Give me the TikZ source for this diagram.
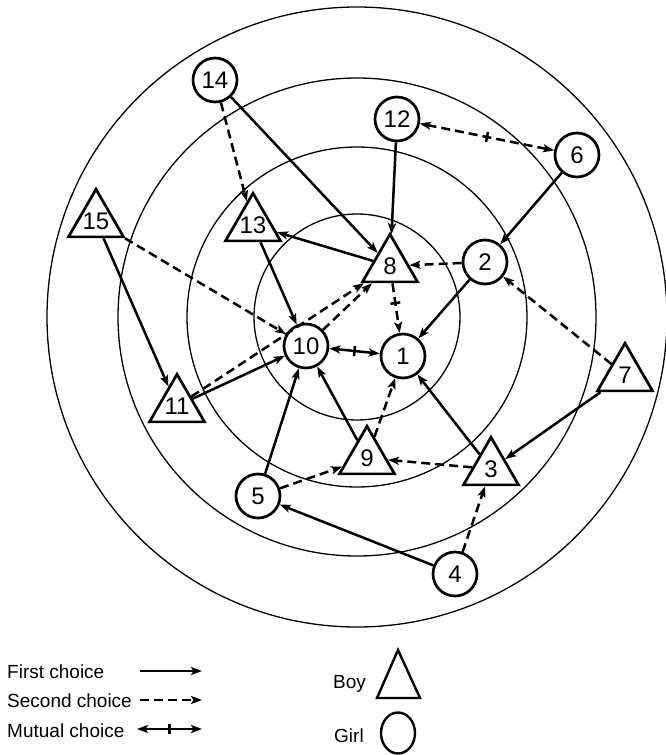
\documentclass[tikz,border=0pt]{standalone}
\usepackage{fontspec}
\setmainfont{Liberation Sans}
\usetikzlibrary{shapes.geometric,arrows.meta,decorations.markings}
\begin{document}
\begin{tikzpicture}[x=1pt,y=-1pt,
  ring/.style={line width=1.3pt},
  girl/.style={draw,circle,fill=white,minimum size=44pt,inner sep=0pt,line width=2.7pt,font=\fontsize{24}{24}\selectfont},
  boy/.style={draw,regular polygon,regular polygon sides=3,fill=white,minimum size=63.5pt,inner sep=0pt,line width=2.7pt},
  blab/.style={font=\fontsize{24}{24}\selectfont},
  tip/.style={arrows={-Stealth[length=11pt,width=8pt,inset=2.5pt]}},
  first/.style={line width=2.5pt,tip},
  second/.style={first,dash pattern=on 9pt off 5pt},
  midtick/.style={postaction={decorate,decoration={markings,mark=at position #1 with {\draw[solid,arrows=-,line width=2.5pt] (0pt,-5pt) -- (0pt,5pt);}}}},
  midtick/.default=0.5,
  mutual/.style={line width=2.5pt,arrows={Stealth[length=11pt,width=8pt,inset=2.5pt]-Stealth[length=11pt,width=8pt,inset=2.5pt]},midtick},
  mutualdash/.style={mutual,dash pattern=on 9pt off 5pt},
  legtext/.style={anchor=base west,inner sep=0pt,font=\fontsize{19}{19}\selectfont}
]
\useasboundingbox (0,0) rectangle (666,755);
% concentric rings
\coordinate (ctr) at (357,317);
\draw[ring] (ctr) circle[radius=103pt];
\draw[ring] (ctr) circle[radius=170pt];
\draw[ring] (ctr) circle[radius=239pt];
\draw[ring] (ctr) circle[radius=310pt];

% girls
\node[girl] (n14) at (215,80) {14};
\node[girl] (n12) at (397,119) {12};
\node[girl] (n6) at (577,155) {6};
\node[girl] (n2) at (485,262) {2};
\node[girl] (n10) at (306,346) {10};
\node[girl] (n1) at (403,356) {1};
\node[girl] (n5) at (258,496) {5};
\node[girl] (n4) at (455,574) {4};
% boys
\node[boy,label={[blab]center:15}] (n15) at (96,221) {};
\node[boy,label={[blab]center:13}] (n13) at (253,225) {};
\node[boy,label={[blab]center:8}] (n8) at (390,266) {};
\node[boy,label={[blab]center:11}] (n11) at (177,406) {};
\node[boy,label={[blab]center:7}] (n7) at (625,375) {};
\node[boy,label={[blab]center:3}] (n3) at (491,469) {};
\node[boy,label={[blab]center:9}] (n9) at (367,458) {};

% choices
\draw[second] (n14) -- (n13);
\draw[first] (n14) -- (n8);
\draw[first] (n12) -- (n8);
\draw[mutualdash] (n12) -- (n6);
\draw[first] (n6) -- (n2);
\draw[second] (n2) -- (n8);
\draw[first] (n2) -- (n1);
\draw[second] (n7) -- (n2);
\draw[first] (n7) -- (n3);
\draw[first] (n8) -- (n13);
\draw[first] (n13) -- (n10);
\draw[second] (n15) -- (n10);
\draw[first] (n15) -- (n11);
\draw[second] (n11) -- (n8);
\draw[second] (n10) -- (n8);
\draw[first] (n11) -- (n10);
\draw[second,midtick=0.4] (n8) -- (n1);
\draw[mutual] (n10) -- (n1);
\draw[first] (n5) -- (n10);
\draw[second] (n5) -- (n9);
\draw[first] (n9) -- (n10);
\draw[second] (n9) -- (n1);
\draw[first] (n3) -- (n1);
\draw[second] (n3) -- (n9);
\draw[first] (n4) -- (n5);
\draw[second] (n4) -- (n3);

% legend
\node[legtext] (l1) at (7,678) {First choice};
\node[legtext] (l2) at (7,707) {Second choice};
\node[legtext] (l3) at (7,737) {Mutual choice};
\coordinate (a1) at (140,671); \coordinate (b1) at (202,671);
\coordinate (a2) at (140,700); \coordinate (b2) at (202,700);
\coordinate (a3) at (137,729); \coordinate (b3) at (202,729);
\draw[first] (a1) -- (b1);
\draw[second] (a2) -- (b2);
\draw[mutual] (a3) -- (b3);
\node[legtext] (lboy) at (333,688) {Boy};
\node[legtext] (lgirl) at (334,742) {Girl};
\draw[line width=2.4pt,line join=miter] (377,698) -- (420,698) -- (398,650) -- cycle;
\draw[line width=2.4pt] (398,733) ellipse[x radius=17pt,y radius=20.5pt];
\end{tikzpicture}
\end{document}
